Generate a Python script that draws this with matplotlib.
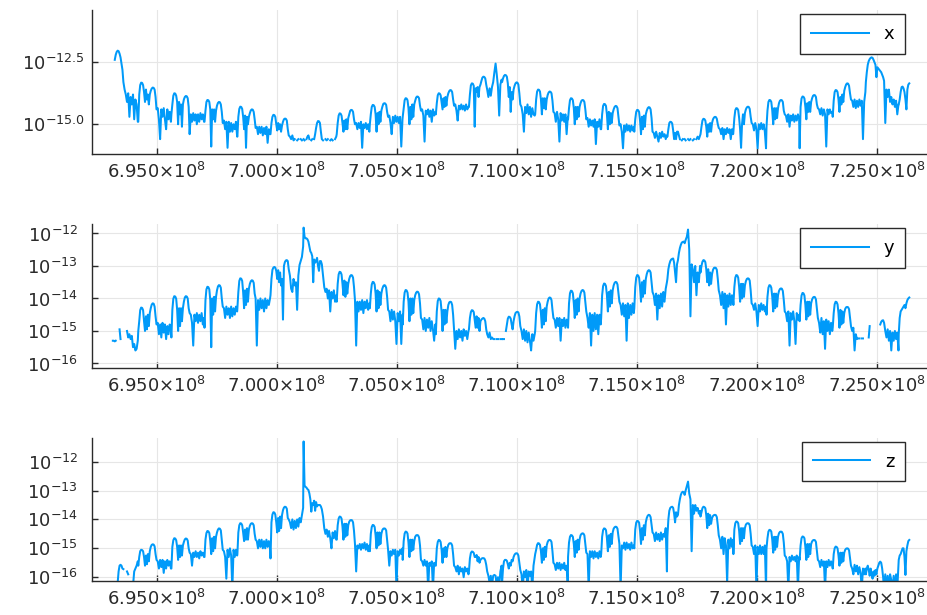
import numpy as np
import matplotlib.pyplot as plt
from matplotlib.ticker import FuncFormatter, NullLocator

nan = np.nan

# position of the first arc of every side lobe (MHz)
lobe_peaks = [692.99, 694.37, 695.75, 697.13, 698.50, 699.88, 701.26, 702.64,
              704.02, 705.39, 706.77, 708.15, 709.53, 710.91, 712.28, 713.66,
              715.04, 716.42, 717.80, 719.17, 720.55, 721.93, 723.31, 724.69,
              726.06]
# where each value of a row sits inside its lobe (MHz from the first arc)
lobe_offsets = [-0.14, -0.10, -0.06, -0.02, 0.02, 0.06, 0.10, 0.14, 0.18, 0.22,
                0.26, 0.30, 0.34, 0.38, 0.42, 0.46, 0.50, 0.54, 0.58, 0.62,
                0.67, 0.72, 0.77, 0.82, 0.87, 0.92, 0.97, 1.02, 1.07, 1.12,
                1.17, 1.22]

# log10 of the amplitude, one row per lobe
log_x = [
    [nan, nan, nan, nan, nan, nan, nan, nan, nan, nan, -12.4, -12.2, -12.08, -12.03, -12.05, -12.15, -12.3, -12.55, -12.8, -13.3, -13.6, -13.8, -14.1, -13.75, -14.7, -13.9, -14.2, -13.8, -14.8, -14.0, -14.2, -14.9],
    [-14.9, -13.8, -13.42, -13.32, -13.33, -13.42, -13.7, -14.1, -13.6, -14.0, -13.8, -14.2, -13.8, -13.65, -13.56, -13.52, -13.53, -13.6, -13.9, -14.4, -14.35, -14.8, -15.6, -14.4, -14.7, -14.35, -14.8, -15.2, -14.4, -14.8, -14.5, -14.9],
    [-14.6, -14.2, -13.85, -13.75, -13.76, -13.85, -14.1, -15.0, -14.1, -14.6, -14.2, -15.1, -14.2, -14.0, -13.9, -13.86, -13.87, -13.95, -14.3, -15.4, -14.6, -14.9, -14.55, -14.85, -14.6, -15.0, -14.6, -14.9, -14.55, -14.8, -14.6, -14.9],
    [-14.9, -14.45, -14.1, -14.02, -14.03, -14.1, -14.4, -15.9, -14.4, -14.8, -14.4, -14.9, -14.45, -14.25, -14.14, -14.1, -14.11, -14.2, -14.5, -14.95, -14.85, -15.2, -14.9, -15.95, -14.9, -15.3, -14.95, -15.3, -15.0, -15.2, -14.9, -15.5],
    [-15.5, -14.7, -14.38, -14.29, -14.3, -14.38, -14.7, -15.2, -14.65, -15.95, -14.7, -15.0, -14.7, -14.55, -14.44, -14.4, -14.41, -14.5, -14.8, -15.15, -15.1, -15.4, -15.1, -15.35, -15.1, -15.45, -15.15, -15.4, -15.1, -15.75, -15.2, -15.4],
    [-15.4, -14.95, -14.7, -14.62, -14.63, -14.7, -15.0, -15.25, -14.95, -15.2, -15.0, -15.3, -15.05, -14.9, -14.8, -14.77, -14.78, -14.85, -15.2, -15.45, -15.5, -15.6, -15.45, -15.65, -15.6, nan, -15.65, -15.6, nan, -15.6, -15.65, nan],
    [-15.6, -15.65, nan, -15.6, -15.5, -15.45, -15.6, nan, -15.65, -15.6, nan, -15.6, -15.4, -15.15, -14.95, -14.87, -14.88, -14.95, -15.3, -15.6, -15.65, nan, -15.6, -15.65, -15.6, nan, -15.65, -15.6, -15.65, nan, -15.6, -15.5],
    [-15.4, -14.95, -14.65, -14.56, -14.57, -14.65, -14.95, -15.3, -14.85, -15.2, -14.8, -15.2, -14.75, -14.6, -14.46, -14.42, -14.43, -14.5, -14.8, -15.0, -14.95, -15.2, -14.95, -15.15, -14.9, -15.95, -15.0, -15.15, -14.95, -15.2, -15.0, -15.3],
    [-15.0, -14.6, -14.3, -14.22, -14.23, -14.3, -14.6, -15.3, -14.55, -15.0, -14.5, -14.9, -14.45, -14.3, -14.18, -14.15, -14.16, -14.22, -14.5, -14.7, -14.65, -14.95, -15.4, -14.7, -14.95, -14.65, -14.9, -14.7, -14.95, -14.7, -15.9, -14.8],
    [-14.7, -14.35, -14.03, -13.95, -13.96, -14.03, -14.35, -15.0, -14.3, -14.8, -14.2, -14.7, -14.2, -14.05, -13.92, -13.88, -13.89, -13.95, -14.25, -14.45, -14.4, -14.65, -15.7, -14.45, -14.6, -14.4, -14.7, -14.45, -14.9, -14.4, -14.65, -14.5],
    [-14.6, -14.15, -13.83, -13.75, -13.76, -13.83, -14.1, -14.4, -13.95, -14.3, -13.9, -14.25, -13.9, -13.75, -13.66, -13.62, -13.63, -13.7, -14.0, -14.25, -14.2, -14.45, -14.85, -14.25, -14.4, -14.2, -14.4, -14.25, -14.45, -14.2, -14.4, -14.3],
    [-14.3, -13.8, -13.43, -13.35, -13.36, -13.45, -15.1, -13.55, -13.7, -13.5, -13.9, -13.5, -13.4, -13.25, -13.12, -13.08, -13.09, -13.15, -13.4, -13.6, -13.9, -13.55, -13.85, -13.5, -13.3, -12.9, -12.55, -13.0, -13.5, -14.65, -13.4, -13.2],
    [-13.3, -13.15, -13.05, -13.01, -13.02, -13.08, -13.35, -13.9, -13.5, -14.5, -13.7, -14.0, -13.6, -13.45, -13.35, -13.31, -13.32, -13.4, -13.75, -14.2, -14.3, -14.6, -15.3, -14.3, -14.55, -14.2, -14.6, -14.3, -14.7, -14.35, -14.6, -14.65],
    [-14.6, -14.0, -13.68, -13.6, -13.61, -13.68, -14.0, -14.6, -13.95, -14.35, -13.95, -14.4, -14.0, -13.82, -13.72, -13.68, -13.69, -13.75, -14.05, -14.5, -14.55, -14.9, -14.5, -14.8, -15.7, -14.55, -14.85, -14.6, -14.9, -14.6, -15.4, -14.7],
    [-14.8, -14.35, -14.03, -13.95, -13.96, -14.03, -14.35, -15.0, -14.3, -14.8, -14.3, -14.7, -14.3, -14.15, -14.05, -14.02, -14.03, -14.1, -14.4, -14.8, -14.75, -15.1, -14.8, -15.05, -14.85, -15.1, -14.8, -15.8, -14.9, -15.1, -14.8, -15.2],
    [-15.2, -14.6, -14.26, -14.18, -14.19, -14.26, -14.6, -15.2, -14.5, -15.0, -14.55, -14.95, -14.55, -14.4, -14.3, -14.26, -14.27, -14.35, -14.7, -15.05, -15.0, -15.3, -15.97, -15.05, -15.3, -15.0, -15.25, -15.05, -15.3, -15.05, -15.25, -15.1],
    [-15.3, -14.8, -14.5, -14.42, -14.43, -14.5, -14.85, -15.4, -14.7, -15.2, -14.65, -15.1, -14.6, -14.45, -14.35, -14.31, -14.32, -14.4, -14.75, -15.3, -15.35, -15.55, -15.3, -15.5, -15.7, -15.35, -15.55, -15.3, -15.5, -15.4, -15.6, -15.45],
    [-15.5, -15.2, -14.95, -14.9, -14.91, -14.97, -15.25, -15.6, -15.35, -15.6, -15.3, -15.3, -15.45, -15.6, nan, -15.65, -15.6, nan, -15.6, -15.65, nan, -15.6, -15.65, -15.6, nan, -15.65, -15.6, nan, -15.6, -15.5, -15.6, -15.45],
    [-15.4, -15.1, -14.85, -14.78, -14.79, -14.85, -15.1, -15.5, -15.0, -15.3, -14.95, -15.3, -14.95, -14.8, -14.73, -14.7, -14.71, -14.78, -15.0, -15.15, -15.2, -15.4, -15.15, -15.6, -15.2, -15.4, -15.15, -15.35, -15.2, -15.6, -15.2, -15.4],
    [-15.3, -14.75, -14.43, -14.35, -14.36, -14.43, -14.75, -15.2, -15.95, -15.0, -14.6, -15.0, -14.55, -14.4, -14.32, -14.29, -14.3, -14.38, -14.7, -14.95, -15.0, -15.25, -14.95, -15.2, -15.97, -15.0, -15.2, -14.95, -15.2, -15.0, -15.3, -15.97],
    [-15.1, -14.45, -14.1, -14.02, -14.03, -14.1, -14.45, -15.0, -14.35, -14.8, -14.35, -14.75, -14.35, -14.15, -14.05, -14.02, -14.03, -14.1, -14.45, -14.6, -14.65, -14.9, -14.6, -15.1, -14.65, -14.85, -14.6, -14.9, -14.65, -14.85, -14.6, -14.8],
    [-15.97, -14.3, -13.96, -13.88, -13.89, -13.96, -14.3, -14.8, -14.15, -14.5, -14.1, -14.5, -14.1, -13.95, -13.85, -13.82, -13.83, -13.9, -14.2, -14.35, -14.4, -14.6, -14.35, -14.65, -14.4, -14.6, -15.9, -14.4, -14.6, -14.4, -14.55, -14.5],
    [-14.7, -14.05, -13.7, -13.62, -13.63, -13.7, -14.0, -14.5, -13.9, -14.2, -13.8, -14.1, -13.65, -13.5, -13.39, -13.35, -13.36, -13.45, -13.75, -14.0, -14.05, -14.3, -14.0, -14.35, -14.05, -14.3, -14.0, -14.25, -14.05, -15.6, -14.1, -13.7],
    [-13.3, -12.9, -12.6, -12.45, -12.37, -12.32, -12.3, -12.32, -12.4, -12.5, -12.6, -13.1, -12.7, -12.75, -12.8, -12.85, -12.9, -13.0, -13.1, -13.25, -14.95, -13.6, -13.9, -13.6, -14.1, -13.9, -14.2, -14.0, -14.3, -14.05, -14.6, -14.2],
    [-14.2, -14.0, -13.7, -13.5, -13.48, -13.55, -13.7, -14.0, -14.4, -13.6, -13.4, -13.35],
]

log_y = [
    [nan, nan, nan, nan, nan, nan, nan, nan, -15.3, -15.3, -15.32, -15.3, nan, nan, nan, -14.95, -15.25, nan, nan, nan, nan, nan, -15.0, -15.2, -15.1, -15.25, -15.15, -15.5, -15.4, -15.6, -15.55, -15.3],
    [-15.0, -14.7, -14.36, -14.28, -14.29, -14.36, -14.7, -15.0, -14.55, -14.95, -14.5, -14.85, -14.45, -14.3, -14.19, -14.15, -14.16, -14.25, -14.55, -14.8, -14.75, -15.1, -14.8, -15.2, -14.75, -15.05, -14.8, -15.25, -14.85, -15.1, -14.8, -15.0],
    [-15.2, -14.35, -14.01, -13.93, -13.94, -14.01, -14.35, -15.0, -14.3, -14.85, -14.3, -14.7, -14.3, -14.1, -13.97, -13.93, -13.94, -14.0, -14.3, -14.45, -14.5, -14.75, -15.45, -14.5, -14.7, -14.45, -14.75, -14.5, -14.7, -14.45, -14.8, -14.6],
    [-14.9, -14.05, -13.72, -13.64, -13.65, -13.72, -14.05, -15.5, -14.0, -14.5, -13.95, -14.4, -13.95, -13.75, -13.63, -13.59, -13.6, -13.67, -14.0, -14.25, -14.3, -14.6, -14.25, -14.5, -14.3, -14.6, -14.25, -14.55, -14.3, -14.5, -14.25, -14.4],
    [-14.3, -13.8, -13.46, -13.38, -13.39, -13.46, -13.8, -14.3, -13.75, -14.2, -13.7, -14.1, -13.7, -13.55, -13.47, -13.44, -13.45, -13.52, -13.85, -14.0, -15.45, -14.05, -14.35, -14.0, -14.3, -14.05, -14.4, -14.0, -14.3, -14.05, -14.2, -14.0],
    [-13.9, -13.4, -13.12, -13.05, -13.03, -13.05, -13.15, -13.4, -13.13, -13.5, -13.2, -13.6, -13.4, -14.65, -13.0, -12.88, -12.83, -12.82, -12.85, -13.1, -13.3, -13.7, -13.8, -13.4, -13.6, -13.5, -14.35, -13.3, -12.97, -12.85, -12.72, -12.4],
    [-11.82, -12.1, -12.15, -12.15, -12.18, -12.25, -12.4, -12.55, -12.6, -12.7, -13.5, -12.8, -12.9, -12.85, -12.75, -13.0, -13.15, -12.85, -12.85, -12.95, -13.3, -13.65, -13.8, -13.7, -14.0, -13.75, -14.4, -13.8, -14.0, -13.75, -14.1, -13.9],
    [-14.1, -13.55, -13.26, -13.18, -13.19, -13.26, -13.55, -13.9, -13.45, -13.95, -13.5, -13.85, -13.55, -13.4, -13.31, -13.28, -13.29, -13.36, -13.65, -14.05, -15.45, -14.1, -14.4, -14.1, -14.35, -14.05, -14.45, -14.1, -14.3, -14.05, -14.35, -14.15],
    [-14.3, -13.85, -13.57, -13.49, -13.5, -13.57, -13.85, -14.4, -13.75, -14.3, -13.8, -14.2, -13.85, -13.7, -13.62, -13.59, -13.6, -13.67, -13.95, -14.35, -14.4, -14.7, -14.35, -14.65, -14.4, -14.7, -15.4, -14.45, -14.7, -14.4, -15.4, -14.5],
    [-14.8, -14.1, -13.82, -13.74, -13.75, -13.82, -14.1, -14.7, -14.0, -14.5, -14.0, -14.45, -14.05, -13.9, -13.82, -13.79, -13.8, -13.87, -14.15, -14.6, -14.65, -14.95, -14.6, -15.0, -14.65, -14.9, -14.6, -15.0, -14.7, -14.95, -15.3, -14.8],
    [-15.1, -14.4, -14.08, -14.0, -14.01, -14.08, -14.4, -15.0, -14.35, -14.8, -14.35, -14.75, -14.4, -14.2, -14.12, -14.1, -14.11, -14.2, -14.5, -14.95, -15.55, -15.0, -15.25, -14.95, -15.2, -15.0, -15.3, -14.95, -15.15, -15.0, -15.25, -15.0],
    [-14.95, -14.6, -14.42, -14.36, -14.37, -14.42, -14.65, -14.9, -14.55, -14.9, -14.6, -15.0, -14.7, -14.65, -14.62, -14.6, -14.62, -14.7, -14.95, -15.1, -15.2, -15.05, -15.25, -15.2, -15.25, -15.25, nan, -15.25, -15.25, nan, -15.25, -15.25],
    [nan, -15.25, -15.25, nan, -15.0, -14.8, -14.62, -14.56, -14.57, -14.62, -14.8, -14.95, -14.7, -14.55, -14.45, -14.42, -14.41, -14.43, -14.55, -14.85, -15.0, -15.25, -14.95, -15.3, -15.0, -15.35, -15.05, -15.3, -15.6, -15.1, -15.3, -15.1],
    [-15.0, -14.45, -14.18, -14.1, -14.11, -14.18, -14.45, -14.9, -14.35, -14.8, -14.3, -14.7, -14.25, -14.1, -14.0, -13.97, -13.98, -14.05, -14.35, -14.6, -14.65, -14.9, -14.6, -14.85, -14.6, -15.3, -14.65, -14.85, -14.6, -14.9, -14.65, -14.85],
    [-14.9, -14.15, -13.84, -13.76, -13.77, -13.84, -14.15, -14.6, -14.05, -14.5, -14.0, -14.4, -14.0, -13.85, -13.77, -13.74, -13.75, -13.82, -14.1, -14.4, -14.6, -14.9, -14.45, -15.45, -14.5, -15.0, -14.45, -14.95, -14.5, -15.1, -14.5, -14.8],
    [-14.6, -13.9, -13.62, -13.54, -13.55, -13.62, -13.9, -14.4, -13.8, -14.25, -13.75, -14.15, -13.75, -13.6, -13.52, -13.49, -13.5, -13.57, -13.85, -14.1, -14.2, -14.5, -14.15, -14.55, -14.2, -15.3, -14.15, -14.6, -14.2, -14.5, -14.15, -14.45],
    [-14.3, -13.65, -13.36, -13.28, -13.29, -13.36, -13.65, -14.1, -13.5, -13.95, -13.45, -13.85, -13.4, -13.25, -13.16, -13.13, -13.14, -13.2, -13.5, -13.8, -13.9, -14.2, -13.85, -14.65, -13.9, -14.3, -13.85, -14.25, -13.8, -14.1, -13.7, -13.5],
    [-13.4, -13.1, -12.95, -12.85, -12.8, -12.78, -12.77, -12.9, -13.2, -13.5, -12.95, -12.82, -12.6, -12.45, -12.35, -12.28, -12.26, -12.25, -12.3, -12.2, -12.1, -11.88, -12.5, -14.55, -12.95, -13.1, -13.5, -13.0, -13.9, -13.2, -13.5, -13.0],
    [-13.2, -13.0, -12.87, -12.82, -12.83, -12.88, -13.1, -13.5, -13.1, -13.6, -13.2, -13.55, -13.25, -13.12, -13.06, -13.05, -13.06, -13.12, -13.4, -13.75, -13.9, -14.2, -13.8, -14.3, -13.85, -14.8, -13.9, -14.25, -13.85, -14.2, -13.9, -14.1],
    [-14.2, -13.65, -13.36, -13.28, -13.29, -13.36, -13.65, -14.1, -13.55, -14.0, -13.55, -13.95, -13.6, -13.47, -13.4, -13.38, -13.39, -13.45, -13.75, -14.15, -14.2, -14.35, -14.15, -14.4, -14.85, -14.2, -14.4, -14.15, -14.35, -14.2, -14.4, -14.25],
    [-14.5, -13.95, -13.67, -13.59, -13.6, -13.67, -13.95, -14.4, -13.85, -14.3, -13.85, -14.25, -13.9, -13.77, -13.71, -13.69, -13.7, -13.77, -14.05, -14.4, -14.45, -14.7, -14.4, -15.45, -14.45, -14.65, -14.4, -14.7, -15.4, -14.45, -14.65, -14.5],
    [-14.7, -14.2, -13.91, -13.83, -13.84, -13.91, -14.2, -14.65, -14.1, -14.55, -14.1, -14.5, -14.15, -14.03, -13.97, -13.95, -13.96, -14.03, -14.3, -14.6, -14.75, -15.05, -14.6, -15.1, -14.7, -15.55, -14.65, -15.0, -14.7, -15.1, -14.75, -15.0],
    [-14.9, -14.45, -14.18, -14.1, -14.11, -14.18, -14.45, -14.9, -14.35, -14.8, -14.4, -14.75, -14.45, -14.32, -14.27, -14.26, -14.27, -14.33, -14.6, -14.85, -15.0, -14.9, -15.6, -15.1, -15.25, -15.23, -15.23, nan, -15.23, -15.23, nan, nan],
    [nan, nan, nan, -15.2, -14.85, nan, nan, nan, nan, nan, nan, nan, nan, nan, nan, -14.8, -14.72, -14.68, -14.67, -14.75, -15.0, -15.2, -14.95, -15.3, -15.0, -15.6, -15.05, -15.3, -15.0, -15.25, -15.05, -15.6],
    [-15.1, -14.6, -14.4, -14.35, -14.3, -14.25, -14.2, -14.3, -14.15, -14.05, -14.0, -13.97],
]

log_z = [
    [nan, nan, nan, nan, nan, nan, nan, nan, nan, nan, nan, nan, nan, -16.2, -15.8, -15.6, -15.57, -15.6, -15.7, -15.72, nan, nan, -15.8, -15.9, nan, nan, nan, -16.3, -15.8, -15.7, -15.6, -15.45],
    [-15.6, -15.3, -15.1, -15.05, -15.06, -15.1, -15.3, -15.6, -15.25, -15.55, -15.2, -15.45, -15.1, -14.95, -14.88, -14.86, -14.87, -14.93, -15.2, -15.4, -15.45, -15.7, -15.4, -15.65, -15.4, -15.85, -15.45, -15.7, -15.4, -15.6, -15.45, -15.7],
    [-15.7, -14.95, -14.72, -14.65, -14.66, -14.72, -14.95, -15.4, -14.9, -15.3, -14.9, -15.25, -14.9, -14.78, -14.69, -14.66, -14.67, -14.73, -15.0, -15.15, -15.2, -15.6, -15.15, -15.3, -15.1, -15.3, -15.15, -15.35, -15.1, -15.25, -15.15, -15.3],
    [-15.3, -14.7, -14.47, -14.4, -14.41, -14.47, -14.75, -15.2, -14.65, -15.1, -14.6, -15.0, -14.6, -14.45, -14.35, -14.31, -14.32, -14.38, -14.7, -15.05, -15.1, -15.3, -16.05, -15.05, -15.3, -15.0, -15.25, -16.4, -15.05, -15.3, -15.05, -15.25],
    [-15.2, -14.45, -14.2, -14.13, -14.14, -14.2, -14.45, -14.75, -14.35, -14.7, -14.3, -14.7, -14.35, -14.22, -14.15, -14.13, -14.14, -14.2, -14.5, -14.7, -14.75, -15.0, -14.7, -14.95, -14.7, -15.0, -14.75, -15.0, -14.7, -14.95, -14.75, -15.0],
    [-15.35, -14.1, -13.83, -13.75, -13.76, -13.83, -14.1, -14.45, -13.95, -14.4, -13.9, -14.3, -13.85, -13.68, -13.59, -13.56, -13.57, -13.63, -13.95, -14.0, -14.1, -14.3, -14.0, -14.35, -14.05, -14.3, -14.0, -14.25, -13.95, -14.1, -13.85, -13.6],
    [-11.3, -12.85, -12.87, -12.9, -12.95, -12.98, -13.1, -13.3, -13.73, -13.44, -13.5, -13.35, -13.7, -13.4, -13.55, -13.5, -13.5, -13.5, -13.55, -13.65, -13.9, -14.3, -14.5, -14.35, -14.6, -14.4, -14.65, -15.0, -14.45, -14.65, -14.4, -14.7],
    [-14.7, -14.2, -13.97, -13.9, -13.91, -13.97, -14.25, -14.7, -14.15, -14.6, -14.15, -14.55, -14.2, -14.08, -14.03, -14.02, -14.03, -14.1, -14.4, -14.85, -15.8, -14.9, -15.0, -14.85, -15.05, -14.85, -15.0, -14.8, -15.05, -14.85, -15.1, -14.9],
    [-15.1, -14.5, -14.26, -14.19, -14.2, -14.26, -14.55, -15.0, -14.45, -14.9, -14.45, -14.85, -14.5, -14.37, -14.32, -14.31, -14.32, -14.38, -14.7, -15.05, -15.6, -15.1, -15.25, -15.05, -15.2, -15.05, -16.4, -15.1, -15.25, -15.05, -15.2, -15.0],
    [-15.4, -14.75, -14.49, -14.42, -14.43, -14.49, -14.8, -15.3, -14.7, -15.1, -14.7, -15.05, -14.75, -14.6, -14.55, -14.54, -14.55, -14.62, -14.9, -15.4, -15.45, -15.6, -15.4, -15.6, -15.45, -16.4, -15.5, -15.6, -15.45, -16.4, -15.5, -15.6],
    [-15.6, -15.0, -14.78, -14.71, -14.72, -14.78, -15.05, -15.5, -15.0, -15.3, -14.95, -15.3, -15.0, -14.88, -14.83, -14.82, -14.83, -14.9, -15.2, -15.6, -15.65, -15.8, -15.6, -15.9, -15.65, -15.8, -15.7, -16.0, -15.65, -15.8, -15.7, -15.9],
    [-15.8, -15.35, -15.16, -15.11, -15.12, -15.16, -15.3, -15.3, -15.23, -15.45, -15.3, -15.5, -15.4, -15.36, -15.34, -15.34, -15.35, -15.42, -15.57, -15.8, -15.95, -16.2, -15.95, -16.3, -15.95, -15.92, -15.95, -16.3, -16.0, -16.3, -15.8, -15.6],
    [-16.2, -15.7, -15.45, -15.4, -15.4, -15.43, -15.55, -15.7, -15.5, -15.6, -15.4, -15.45, -15.3, -15.22, -15.18, -15.17, -15.18, -15.25, -15.5, -15.75, -15.9, -16.4, -15.8, -16.0, -15.75, -16.4, -15.8, -15.95, -15.8, -16.4, -15.6, -15.3],
    [-15.2, -15.05, -14.88, -14.82, -14.83, -14.88, -15.1, -15.5, -15.0, -15.4, -14.95, -15.3, -14.9, -14.78, -14.72, -14.71, -14.72, -14.78, -15.1, -15.5, -15.55, -15.75, -15.5, -15.7, -15.5, -15.75, -15.55, -15.7, -15.5, -15.75, -15.6, -16.4],
    [-15.3, -14.8, -14.6, -14.54, -14.55, -14.6, -14.85, -15.3, -14.75, -15.15, -14.7, -15.05, -14.7, -14.55, -14.5, -14.48, -14.49, -14.55, -14.85, -15.15, -15.2, -16.4, -15.1, -15.3, -15.1, -15.35, -15.1, -15.3, -15.15, -15.35, -15.1, -15.3],
    [-15.2, -14.6, -14.37, -14.31, -14.32, -14.37, -14.65, -15.1, -14.55, -14.95, -14.5, -14.85, -14.45, -14.32, -14.27, -14.25, -14.26, -14.32, -14.6, -14.85, -16.4, -14.9, -15.0, -14.8, -15.05, -14.8, -15.0, -14.85, -15.05, -14.8, -15.0, -14.9],
    [-15.0, -14.35, -14.11, -14.05, -14.06, -14.11, -14.4, -14.85, -14.3, -14.7, -14.2, -14.55, -14.1, -13.95, -13.87, -13.84, -13.85, -13.92, -14.2, -14.45, -14.5, -14.75, -14.45, -14.7, -14.5, -14.75, -14.45, -14.7, -14.5, -14.6, -14.3, -15.8],
    [-14.6, -14.0, -13.7, -13.6, -13.57, -13.56, -13.6, -13.8, -14.1, -13.75, -13.9, -13.84, -13.5, -13.3, -13.15, -13.07, -13.04, -13.06, -13.15, -13.0, -12.85, -12.69, -13.1, -13.3, -15.1, -13.5, -13.8, -13.5, -13.7, -13.6, -13.8, -13.7],
    [-13.9, -13.75, -13.61, -13.56, -13.57, -13.61, -13.85, -14.3, -13.8, -14.2, -13.85, -14.15, -13.95, -13.88, -13.85, -13.84, -13.85, -13.92, -14.2, -14.55, -14.7, -15.0, -14.6, -15.2, -14.65, -14.9, -16.2, -14.7, -15.0, -14.65, -14.95, -14.7],
    [-15.2, -14.35, -14.13, -14.07, -14.08, -14.13, -14.4, -14.85, -14.3, -14.75, -14.3, -14.65, -14.3, -14.18, -14.14, -14.13, -14.14, -14.2, -14.5, -14.9, -14.95, -15.2, -14.9, -16.4, -14.95, -15.2, -14.9, -15.2, -14.95, -15.2, -14.9, -16.4],
    [-15.0, -14.65, -14.42, -14.36, -14.37, -14.42, -14.7, -15.15, -14.6, -15.05, -14.6, -14.95, -14.6, -14.48, -14.43, -14.42, -14.43, -14.5, -14.8, -15.25, -15.3, -15.45, -16.4, -15.3, -15.45, -15.25, -15.4, -15.3, -15.45, -15.25, -16.4, -15.3],
    [-15.4, -14.9, -14.65, -14.59, -14.6, -14.65, -14.95, -15.4, -14.85, -15.3, -14.85, -15.2, -14.85, -14.76, -14.72, -14.71, -14.72, -14.78, -15.1, -15.4, -15.45, -15.65, -15.4, -15.6, -15.45, -16.4, -15.45, -15.65, -15.4, -15.6, -15.45, -15.6],
    [-15.7, -15.2, -15.0, -14.94, -14.95, -15.0, -15.25, -15.6, -15.15, -15.5, -15.15, -15.45, -15.15, -15.05, -15.01, -15.0, -15.01, -15.07, -15.35, -15.6, -15.7, -15.9, -15.57, -15.8, -15.6, -15.9, -15.65, -15.85, -16.4, -15.7, -15.9, -15.7],
    [-15.9, -15.7, -15.6, -15.75, -15.95, -15.7, -15.9, -16.05, -15.8, -15.95, -15.75, -15.9, -15.7, -15.6, -15.5, -15.46, -15.5, -15.7, -16.0, -16.4, -15.9, -16.4, -15.95, -16.4, -15.9, -16.1, -16.4, -15.95, -16.4, -15.9, -16.4, -15.6],
    [-15.4, -15.25, -15.2, -15.1, -15.0, -15.0, -15.3, -15.92, -15.1, -14.9, -14.75, -14.71],
]

labels = ["x", "y", "z"]
ylims = [(-16.2, -10.39), (-16.14, -11.71), (-16.12, -11.17)]
yticks = [[-12.5, -15.0], [-12, -13, -14, -15, -16], [-12, -13, -14, -15, -16]]
xticks = [6.95e8, 7.00e8, 7.05e8, 7.10e8, 7.15e8, 7.20e8, 7.25e8]


def flatten(rows):
    f, v = [], []
    for peak, row in zip(lobe_peaks, rows):
        for off, val in zip(lobe_offsets, row):
            f.append((peak + off) * 1e6)
            v.append(10.0 ** val)
    return np.array(f), np.array(v)


fig = plt.figure(figsize=(9.28, 6.15), dpi=100)
boxes = [[0.0991, 0.7496, 0.9009, 0.2341],
         [0.0991, 0.4016, 0.9009, 0.2341],
         [0.0991, 0.0558, 0.9009, 0.2325]]
blue = "#009af9"
ink = "#2a2a2a"

for box, rows, lab, yl, yt in zip(boxes, [log_x, log_y, log_z], labels, ylims, yticks):
    ax = fig.add_axes(box)
    f, v = flatten(rows)
    ax.plot(f, v, color=blue, lw=1.45, label=lab)
    ax.set_yscale("log")
    ax.set_xlim(692.30e6, 727.14e6)
    ax.set_ylim(10.0 ** yl[0], 10.0 ** yl[1])
    ax.set_xticks(xticks)
    ax.xaxis.set_major_formatter(FuncFormatter(lambda t, _: f"{t / 1e8:.3f}×10$^{{8}}$"))
    ax.set_yticks([10.0 ** t for t in yt])
    if lab == "x":
        ax.set_yticklabels([f"10$^{{{t:.1f}}}$" for t in yt])
    else:
        ax.set_yticklabels([f"10$^{{{t}}}$" for t in yt])
    ax.yaxis.set_minor_locator(NullLocator())
    ax.grid(True, color="#e6e6e6", lw=0.8)
    ax.set_axisbelow(True)
    for s in ["top", "right"]:
        ax.spines[s].set_visible(False)
    for s in ["left", "bottom"]:
        ax.spines[s].set_linewidth(1.0)
        ax.spines[s].set_color(ink)
    ax.tick_params(direction="in", length=4, width=1.0, labelsize=13,
                   colors=ink)
    ax.tick_params(axis="x", pad=6)
    ax.tick_params(axis="y", pad=5 if lab == "x" else 10)
    leg = ax.legend(loc="upper right", bbox_to_anchor=(0.9725, 0.972),
                    borderaxespad=0, fancybox=False, framealpha=1,
                    edgecolor=ink, fontsize=13, handlelength=3.2,
                    borderpad=0.6, handletextpad=0.8)
    leg.get_frame().set_linewidth(1.0)

fig.savefig("out.png", dpi=100)
